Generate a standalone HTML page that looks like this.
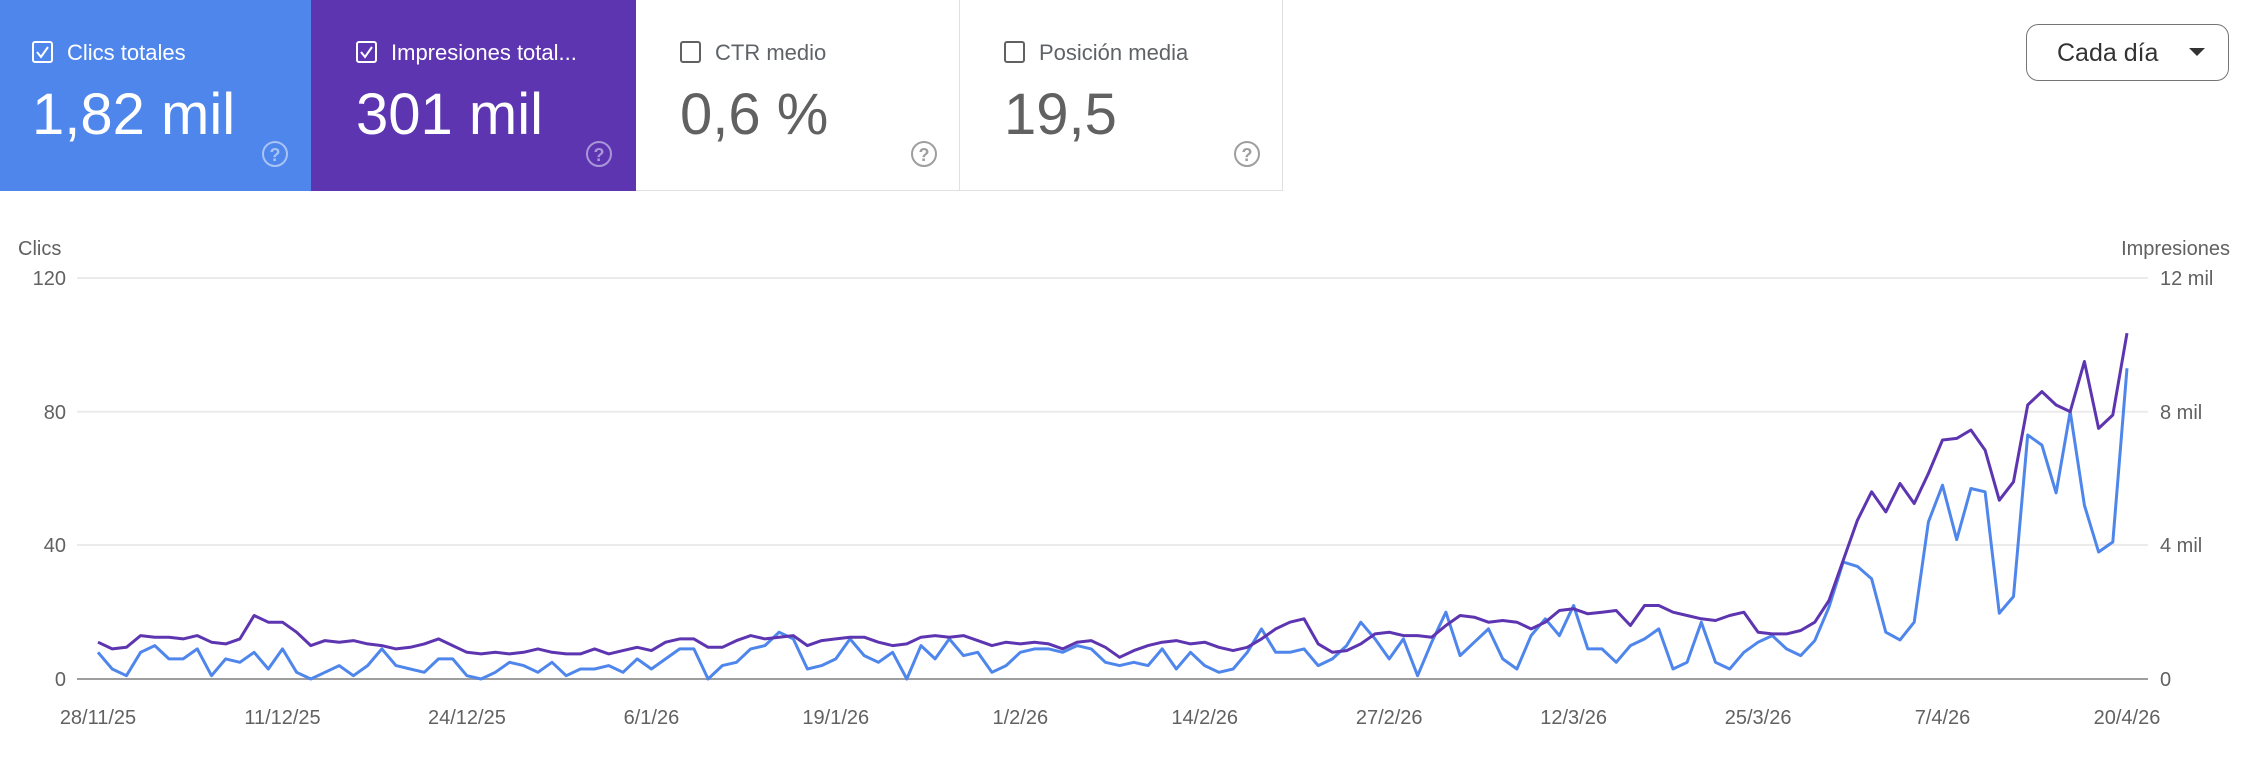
<!DOCTYPE html>
<html><head><meta charset="utf-8"><style>
html,body{margin:0;padding:0;background:#fff;}
body{width:2250px;height:772px;overflow:hidden;font-family:"Liberation Sans",sans-serif;}
</style></head><body>
<svg width="2250" height="772" viewBox="0 0 2250 772" xmlns="http://www.w3.org/2000/svg" font-family="Liberation Sans, sans-serif">
<rect x="0" y="0" width="311" height="191" fill="#4e86ec"/>
<rect x="311" y="0" width="325" height="191" fill="#5e35b1"/>
<rect x="636" y="0" width="323" height="191" fill="#fff"/>
<line x1="959.5" y1="0" x2="959.5" y2="191" stroke="#e0e0e0" stroke-width="1"/>
<line x1="1282.5" y1="0" x2="1282.5" y2="191" stroke="#e0e0e0" stroke-width="1"/>
<line x1="636" y1="190.5" x2="1283" y2="190.5" stroke="#e0e0e0" stroke-width="1"/>
<g fill="none" stroke-width="2">
<rect x="33" y="42" width="19" height="20" rx="2" stroke="#fff"/>
<path d="M37 52 l4 5 l7 -10" stroke="#fff"/>
<rect x="357" y="42" width="19" height="20" rx="2" stroke="#fff"/>
<path d="M361 52 l4 5 l7 -10" stroke="#fff"/>
<rect x="681" y="42" width="19" height="20" rx="2" stroke="#616161"/>
<rect x="1005" y="42" width="19" height="20" rx="2" stroke="#616161"/>
</g>
<g font-size="22">
<text x="67" y="60" fill="#fff">Clics totales</text>
<text x="391" y="60" fill="#fff">Impresiones total...</text>
<text x="715" y="60" fill="#5f6368">CTR medio</text>
<text x="1039" y="60" fill="#5f6368">Posición media</text>
</g>
<g font-size="58">
<text x="32" y="134" fill="#fff">1,82 mil</text>
<text x="356" y="134" fill="#fff">301 mil</text>
<text x="680" y="134" fill="#616161">0,6 %</text>
<text x="1004" y="134" fill="#616161">19,5</text>
</g>
<g fill="none" stroke-width="2">
<circle cx="275" cy="154" r="12" stroke="#a9c3f5"/>
<circle cx="599" cy="154" r="12" stroke="#a996d8"/>
<circle cx="924" cy="154" r="12" stroke="#9e9e9e"/>
<circle cx="1247" cy="154" r="12" stroke="#9e9e9e"/>
</g>
<g font-size="18" text-anchor="middle" font-weight="bold">
<text x="275" y="161" fill="#a9c3f5">?</text>
<text x="599" y="161" fill="#a996d8">?</text>
<text x="924" y="161" fill="#9e9e9e">?</text>
<text x="1247" y="161" fill="#9e9e9e">?</text>
</g>
<rect x="2026.5" y="24.5" width="202" height="56" rx="12" fill="#fff" stroke="#757575" stroke-width="1"/>
<text x="2057" y="61" font-size="25" fill="#333">Cada día</text>
<path d="M2189 48 h16 l-8 8 z" fill="#333"/>
<g stroke="#ebebeb" stroke-width="2">
<line x1="77" y1="278" x2="2148" y2="278"/>
<line x1="77" y1="411.7" x2="2148" y2="411.7"/>
<line x1="77" y1="545" x2="2148" y2="545"/>
</g>
<line x1="77" y1="679" x2="2148" y2="679" stroke="#9e9e9e" stroke-width="2"/>
<g font-size="20" fill="#616161">
<text x="18" y="255">Clics</text>
<text x="2230" y="255" text-anchor="end">Impresiones</text>
<g text-anchor="end">
<text x="66" y="285">120</text><text x="66" y="419">80</text><text x="66" y="552">40</text><text x="66" y="686">0</text>
</g>
<text x="2160" y="285">12 mil</text><text x="2160" y="419">8 mil</text><text x="2160" y="552">4 mil</text><text x="2160" y="686">0</text>
<g text-anchor="middle" id="xl"></g>
</g>
<g id="lines"></g>
</svg>
<script>
var b=[8,3,1,8,10,6,6,9,1,6,5,8,3,9,
2,0,2,4,1,4,9,4,3,2,6,6,1,
0,2,5,4,2,5,1,3,3,4,2,6,3,
6,9,9,0,4,5,9,10,14,12,3,4,6,
12,7,5,8,0,10,6,12,7,8,2,4,8,
9,9,8,10,9,5,4,5,4,9,3,8,4,
2,3,8,15,8,8,9,4,6,10,17,12,6,
12,1,11,20,7,11,15,6,3,13,18,13,22,
9,9,5,10,12,15,3,5,17,5,3,8,11,
13,9,
7,11.5,21.5,35,33.7,30,14,11.7,17,47,58,41.7,57,56,19.7,24.7,73,70,55.7,80,52,38,41,93];
var p=[11,9,9.5,13,12.5,12.5,12,13,11,10.5,12,19,17,17,
14,10,11.5,11,11.5,10.5,10,9,9.5,10.5,12,10,8,
7.5,8,7.5,8,9,8,7.5,7.5,9,7.5,8.5,9.5,8.5,
11,12,12,9.5,9.5,11.5,13,12,12.5,13,10,11.5,12,
12.5,12.5,11,10,10.5,12.5,13,12.5,13,11.5,10,11,10.5,
11,10.5,9,11,11.5,9.5,6.5,8.5,10,11,11.5,10.5,11,
9.5,8.5,9.5,12,15,17,18,10.5,8,8.5,10.5,13.5,14,
13,13,12.5,16,19,18.5,17,17.5,17,15,17,20.5,21,
19.5,20,20.5,16,22,22,20,19,18,17.5,19,20,14,
13.5,13.5,
14.5,17,23.5,35.5,47.5,56,50,58.5,52.5,61.5,71.5,72,74.5,68.5,53.5,59,82,86,82,80,95,75,79,103.5];
var dx=(2127-98)/143;
function pts(a){return a.map(function(v,i){return (98+i*dx).toFixed(1)+","+(679-v*3.342).toFixed(1)}).join(" ");}
var ns="http://www.w3.org/2000/svg";
var g=document.getElementById("lines");
[[b,"#4f86ec"],[p,"#5e35b1"]].forEach(function(s){var e=document.createElementNS(ns,"polyline");e.setAttribute("points",pts(s[0]));e.setAttribute("fill","none");e.setAttribute("stroke",s[1]);e.setAttribute("stroke-width","3");e.setAttribute("stroke-linejoin","round");g.appendChild(e);});
var labs=["28/11/25","11/12/25","24/12/25","6/1/26","19/1/26","1/2/26","14/2/26","27/2/26","12/3/26","25/3/26","7/4/26","20/4/26"];
var xl=document.getElementById("xl");
labs.forEach(function(t,k){var e=document.createElementNS(ns,"text");e.setAttribute("x",(98+13*k*dx).toFixed(1));e.setAttribute("y","724");e.textContent=t;xl.appendChild(e);});
</script>
</body></html>
